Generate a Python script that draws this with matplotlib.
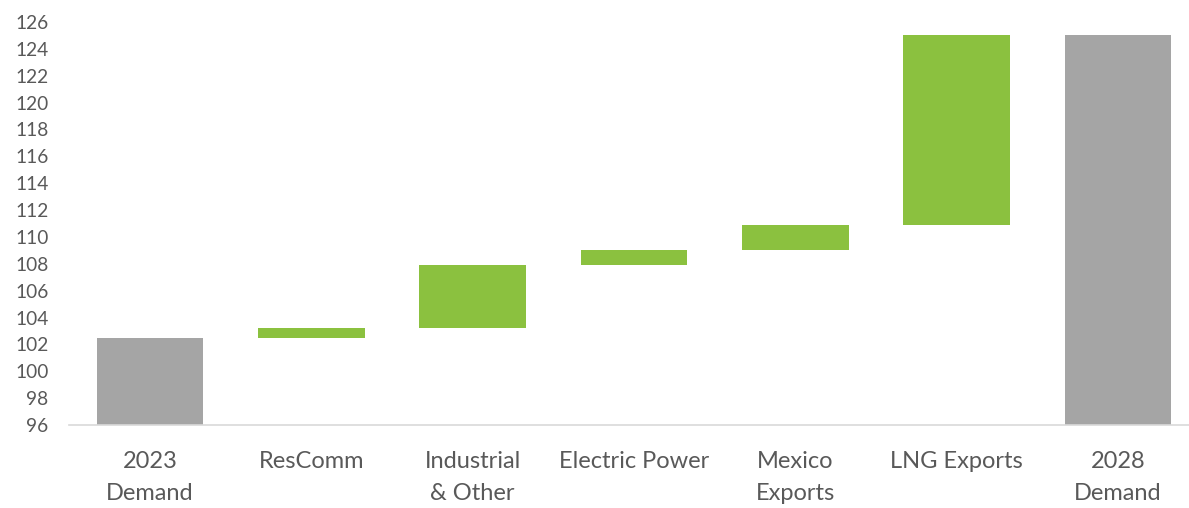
import numpy as np
import matplotlib.pyplot as plt

categories = ['2023\nDemand', 'ResComm', 'Industrial\n& Other', 'Electric Power',
              'Mexico\nExports', 'LNG Exports', '2028\nDemand']
start_total = 102.5
changes = [0.7, 4.7, 1.1, 1.9, 14.1]
end_total = 125.0
y_ticks = list(range(96, 127, 2))

gray = '#A5A5A5'
green = '#8BC13F'

plt.rcParams['font.family'] = ['Lato', 'DejaVu Sans']

# waterfall: floating bars start where the previous one ended
tops = start_total + np.cumsum(changes)
bottoms = tops - np.array(changes)

fig = plt.figure(figsize=(11.89, 5.08), dpi=100)
ax = fig.add_axes([69.4 / 1189, 83 / 508, (1189 - 69.4) / 1189, 403 / 508])

x = np.arange(len(categories))
w = 0.66
ax.bar(x[0], start_total - 96, bottom=96, width=w, color=gray)
ax.bar(x[1:-1], changes, bottom=bottoms, width=w, color=green)
ax.bar(x[-1], end_total - 96, bottom=96, width=w, color=gray)

ax.set_ylim(96, 126)
ax.set_xlim(-0.5, 6.44)
ax.set_yticks(y_ticks)
ax.set_xticks(x)
ax.set_xticklabels(categories, linespacing=1.65)

for s in ['top', 'right', 'left']:
    ax.spines[s].set_visible(False)
ax.spines['bottom'].set_color('#D9D9D9')
ax.spines['bottom'].set_linewidth(1.2)
ax.tick_params(axis='y', length=0, pad=15, labelsize=13.8, labelcolor='#595959')
ax.tick_params(axis='x', length=0, pad=19, labelsize=17, labelcolor='#595959')

fig.savefig('out.png', dpi=100)
